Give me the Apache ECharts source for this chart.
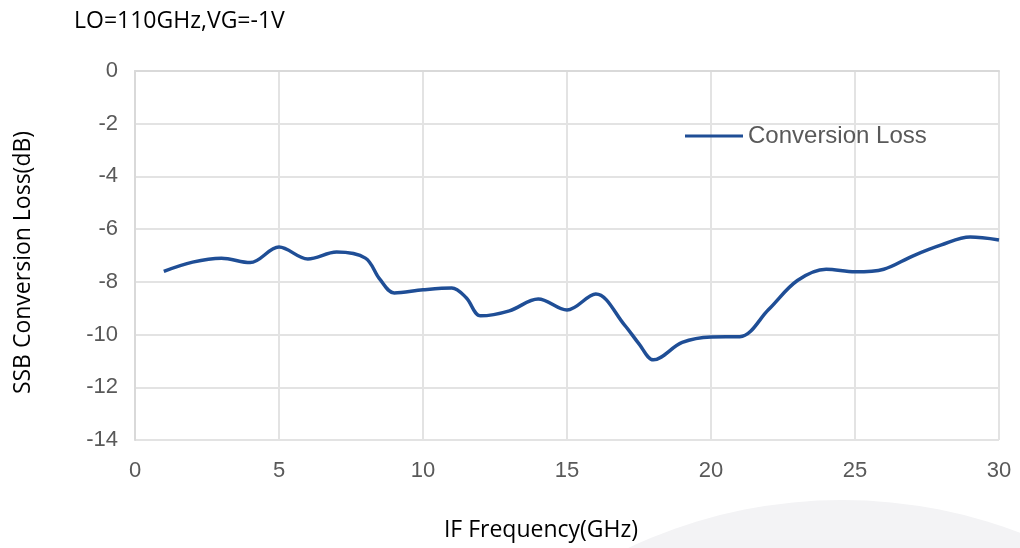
<!DOCTYPE html>
<html>
<head>
<meta charset="utf-8">
<script src="https://cdn.jsdelivr.net/npm/echarts@6/dist/echarts.min.js"></script>
<style>
html, body { margin: 0; padding: 0; background: #fff; }
#chart { width: 1020px; height: 548px; }
</style>
</head>
<body>
<div id="chart"></div>
<script>
// IF frequency (GHz) and SSB conversion loss (dB)
var freq = [1, 2, 3, 4, 5, 6, 7, 8, 8.5, 9, 10, 11, 11.5, 12, 13, 14, 15, 16, 17, 17.5, 18, 19, 20, 21, 22, 23, 24, 25, 26, 27, 28, 29, 30];
var loss = [-7.6, -7.25, -7.1, -7.27, -6.68, -7.13, -6.87, -7.1, -7.9, -8.42, -8.3, -8.23, -8.6, -9.29, -9.1, -8.65, -9.07, -8.46, -9.64, -10.35, -10.96, -10.3, -10.09, -10.08, -9.05, -7.95, -7.52, -7.62, -7.52, -7.02, -6.6, -6.3, -6.41];
var seriesName = 'Conversion Loss';

var chart = echarts.init(document.getElementById('chart'));

var points = freq.map(function (f, i) {
    return [f, loss[i]];
});

var option = {
    backgroundColor: '#ffffff',
    animation: false,
    title: {
        text: 'LO=110GHz,VG=-1V',
        left: 69,
        top: 5,
        textStyle: {
            fontFamily: 'Open Sans',
            fontSize: 23,
            fontWeight: 'normal',
            color: '#000'
        }
    },
    graphic: [{
        type: 'circle',
        z: -10,
        shape: { cx: 842, cy: 1000, r: 500 },
        style: { fill: '#f3f3f5' }
    }],
    legend: {
        data: [seriesName],
        left: 680,
        top: 119,
        itemWidth: 58,
        itemHeight: 28,
        itemGap: 8,
        icon: 'path://M0,12.5 L58,12.5 L58,15.5 L0,15.5 Z',
        textStyle: {
            fontFamily: 'Liberation Sans',
            fontSize: 24,
            color: '#595959'
        }
    },
    grid: {
        left: 135,
        right: 21,
        top: 71,
        bottom: 108
    },
    xAxis: {
        type: 'value',
        min: 0,
        max: 30,
        interval: 5,
        name: 'IF Frequency(GHz)',
        nameLocation: 'middle',
        nameGap: 79,
        nameTextStyle: {
            fontFamily: 'Open Sans',
            fontSize: 23,
            color: '#000',
            padding: [0, 52, 0, 0]
        },
        axisLine: { show: true, lineStyle: { color: '#d9d9d9', width: 2 } },
        axisTick: { show: false },
        axisLabel: {
            margin: 20,
            fontFamily: 'Liberation Sans',
            fontSize: 22,
            color: '#595959'
        },
        splitLine: { show: true, lineStyle: { color: '#e3e3e3', width: 2 } }
    },
    yAxis: {
        type: 'value',
        min: -14,
        max: 0,
        interval: 2,
        name: 'SSB Conversion Loss(dB)',
        nameLocation: 'middle',
        nameGap: 100,
        nameTextStyle: {
            fontFamily: 'Open Sans',
            fontSize: 23,
            color: '#000',
            padding: [0, 14, 0, 0]
        },
        axisLine: { show: true, lineStyle: { color: '#d9d9d9', width: 2 } },
        axisTick: { show: false },
        axisLabel: {
            margin: 17,
            fontFamily: 'Liberation Sans',
            fontSize: 22,
            color: '#595959'
        },
        splitLine: { show: true, lineStyle: { color: '#e3e3e3', width: 2 } }
    },
    series: [{
        name: seriesName,
        type: 'line',
        data: points,
        smooth: 0.35,
        showSymbol: false,
        symbol: 'none',
        lineStyle: { color: '#1f4e96', width: 3.5 },
        itemStyle: { color: '#1f4e96' }
    }]
};

chart.setOption(option);
</script>
</body>
</html>
